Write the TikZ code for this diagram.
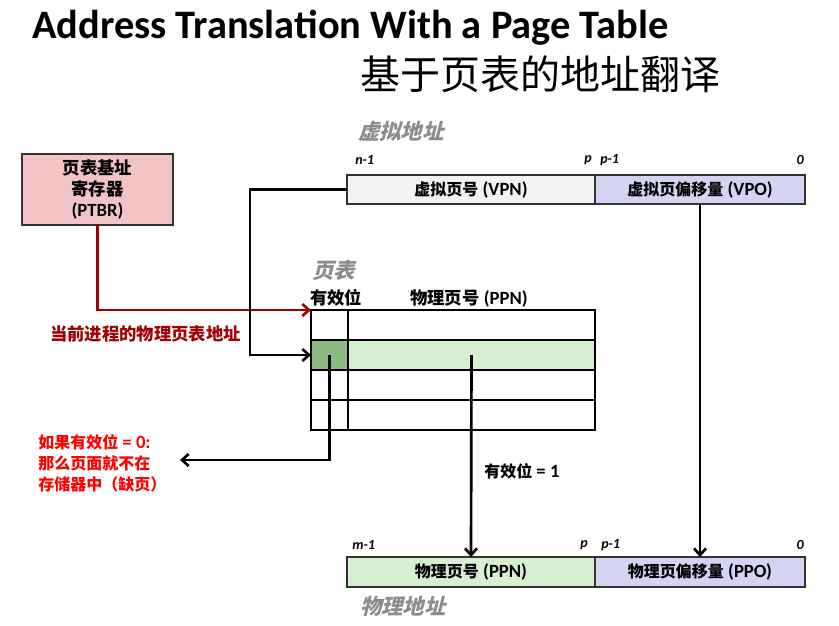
\documentclass[tikz,border=0pt]{standalone}
\usepackage{fontspec}
\setmainfont{Carlito}
\newfontfamily\cjk{Noto Sans CJK SC}
\newfontfamily\cjkit{Noto Sans CJK SC}[FakeSlant=0.25]
\usetikzlibrary{arrows.meta}
\definecolor{ptbrfill}{RGB}{242,196,198}
\definecolor{vpnfill}{RGB}{242,242,242}
\definecolor{lav}{RGB}{212,212,242}
\definecolor{lgreen}{RGB}{214,239,208}
\definecolor{dgreen}{RGB}{142,186,132}
\definecolor{dred}{RGB}{160,0,0}
\definecolor{lgray}{RGB}{140,140,140}
\newcommand{\zh}[1]{{\cjk\fontsize{12}{14}\selectfont #1}}
\begin{document}
\begin{tikzpicture}[x=0.75pt,y=-0.75pt,
  conn/.style={line width=2pt,-{Straight Barb[length=5pt,width=9pt]}},
  redconn/.style={conn,draw=dred},
  box/.style={draw=black!80,line width=0.9pt,inner sep=0pt,outer sep=0pt,minimum height=21.75pt,font=\bfseries\fontsize{14}{16}\selectfont},
  cell/.style={draw=black,line width=1pt,inner sep=0pt,outer sep=0pt,minimum height=22.5pt},
  bit/.style={font=\bfseries\itshape\fontsize{10.5}{12}\selectfont,inner sep=0pt},
  glab/.style={text=lgray,font=\cjkit\bfseries\fontsize{16}{18}\selectfont,inner sep=0pt,anchor=west},
  blab/.style={font=\bfseries\fontsize{14}{16}\selectfont,inner sep=0pt}]
\useasboundingbox (0,0) rectangle (839,625);

% titles
\node[anchor=base west,inner sep=0pt,font=\bfseries\fontsize{30.3}{36}\selectfont] (title) at (32,38) {Address Translation With a Page Table};
\node[anchor=base west,inner sep=0pt,font=\cjk\fontsize{30}{36}\selectfont] (ctitle) at (360,89) {基于页表的地址翻译};

% PTBR
\node[box,fill=ptbrfill,minimum width=113.25pt,minimum height=53.25pt,align=center,font=\bfseries\fontsize{14}{16}\selectfont] (ptbr) at (97.5,189.5) {{\cjk\fontsize{13}{16}\selectfont 页表基址}\\{\cjk\fontsize{13}{16}\selectfont 寄存器}\\(PTBR)};

% virtual address
\node[glab] (valab) at (358,131) {虚拟地址};
\node[bit,anchor=west] (b1) at (355,160) {n-1};
\node[bit,anchor=east] (b2) at (592,160) {p};
\node[bit,anchor=west] (b3) at (600,160) {p-1};
\node[bit,anchor=east] (b4) at (804,160) {0};
\node[box,fill=vpnfill,minimum width=186pt] (vpn) at (471,189.5) {\zh{虚拟页号} (VPN)};
\node[box,fill=lav,minimum width=157.5pt] (vpo) at (700,189.5) {\zh{虚拟页偏移量} (VPO)};

% page table
\node[glab] (ptlab) at (312,270) {页表};
\node[blab,anchor=west] (hvalid) at (310,298) {{\cjk\fontsize{13}{15}\selectfont 有效位}};
\node[blab,anchor=west] (hppn) at (410,298) {{\cjk\fontsize{13}{15}\selectfont 物理页号} (PPN)};
\foreach \i/\y in {1/325,2/355,3/385,4/415}{
  \node[cell,minimum width=27.75pt] (v\i) at (329.5,\y) {};
  \node[cell,minimum width=185.25pt] (p\i) at (471.5,\y) {};
}
\node[cell,fill=dgreen,minimum width=27.75pt] at (v2) {};
\node[cell,fill=lgreen,minimum width=185.25pt] at (p2) {};

% physical address
\node[bit,anchor=west] (c1) at (352,545) {m-1};
\node[bit,anchor=east] (c2) at (588,545) {p};
\node[bit,anchor=west] (c3) at (601,545) {p-1};
\node[bit,anchor=east] (c4) at (804,545) {0};
\node[box,fill=lgreen,minimum width=186pt,minimum height=22.5pt] (ppn) at (471,572) {\zh{物理页号} (PPN)};
\node[box,fill=lav,minimum width=157.5pt,minimum height=22.5pt] (ppo) at (700,572) {\zh{物理页偏移量} (PPO)};
\node[glab] (palab) at (360,606) {物理地址};

% labels
\node[anchor=west,inner sep=0pt,text=dred,font=\cjk\bfseries\fontsize{13}{15}\selectfont] (curlab) at (50,334) {当前进程的物理页表地址};
\node[anchor=north west,inner sep=0pt,text=red,align=left,font=\bfseries\fontsize{14}{16}\selectfont] (misslab) at (38,434) {\zh{如果有效位} = 0:\\\zh{那么页面就不在}\\\zh{存储器中（缺页）}};
\node[blab,anchor=west] (v1lab) at (484,471) {\zh{有效位} = 1};

% connectors
\coordinate (bend1) at (250,189.5);
\coordinate (missend) at (180,460);
\draw[redconn] (ptbr.south) |- (v1.north west);
\draw[conn] (vpn.west) -- (bend1) |- (v2.west);
\draw[conn] (v2.center) |- (missend);
\draw[conn] (p2.center) -- (ppn.north);
\draw[conn] (vpo.south) -- (ppo.north);
\end{tikzpicture}
\end{document}
